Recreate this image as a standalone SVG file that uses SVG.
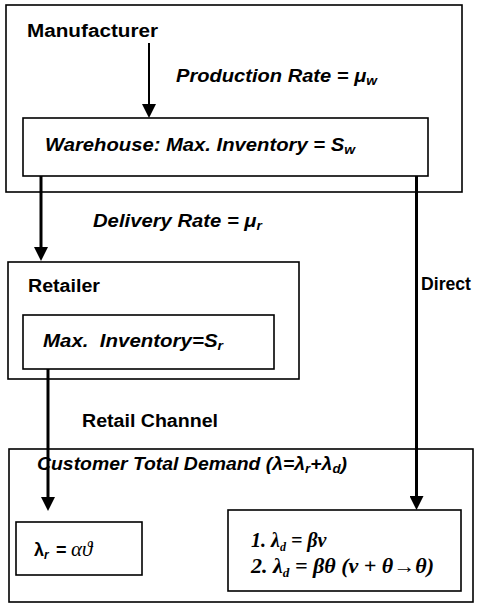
<svg xmlns="http://www.w3.org/2000/svg" width="480" height="605" viewBox="0 0 480 605">
<style>
.box{fill:none;stroke:#000;stroke-width:1.6}
.lb{font-family:"Liberation Sans",Arial,sans-serif;font-weight:bold;font-size:17.5px;fill:#000}
.li{font-family:"Liberation Sans",Arial,sans-serif;font-weight:bold;font-style:italic;font-size:17.5px;fill:#000}
.m{font-family:"Liberation Serif","Times New Roman",serif;font-weight:bold;font-style:italic;font-size:20px;fill:#000}
.sub{font-size:12px}
.con{fill:none;stroke:#000;stroke-width:3}
</style>
<defs>
<marker id="ah" markerUnits="userSpaceOnUse" markerWidth="14" markerHeight="14" refX="1" refY="7" orient="auto">
<path d="M0,0 L14,7 L0,14 z" fill="#000"/>
</marker>
</defs>
<rect width="480" height="605" fill="#fff"/>
<g id="manufacturer">
<rect class="box" x="6" y="5" width="456" height="187"/>
<text class="lb" x="27" y="37" textLength="131" lengthAdjust="spacingAndGlyphs">Manufacturer</text>
</g>
<g id="warehouse">
<rect class="box" x="23" y="118" width="405" height="58" fill="#fff"/>
<text class="li" x="45" y="151" textLength="310" lengthAdjust="spacingAndGlyphs">Warehouse: Max. Inventory = S<tspan class="sub" dy="3">w</tspan></text>
</g>
<g id="retailer">
<rect class="box" x="8" y="262" width="291" height="117"/>
<text class="lb" x="28" y="292" textLength="72" lengthAdjust="spacingAndGlyphs">Retailer</text>
</g>
<g id="retailer-inventory">
<rect class="box" x="23" y="315" width="251" height="54"/>
<text class="li" x="43" y="347" textLength="180" lengthAdjust="spacingAndGlyphs" style="white-space:pre">Max.  Inventory=S<tspan class="sub" dy="3">r</tspan></text>
</g>
<g id="customer">
<rect class="box" x="9" y="449" width="464" height="153"/>
<text class="li" x="37" y="470" textLength="310" lengthAdjust="spacingAndGlyphs">Customer Total Demand (λ=λ<tspan class="sub" dy="3">r</tspan><tspan dy="-3">+λ</tspan><tspan class="sub" dy="3">d</tspan><tspan dy="-3">)</tspan></text>
</g>
<g id="lambda-r">
<rect class="box" x="16" y="522" width="126" height="53"/>
<text x="34" y="556" style="font-family:'Liberation Sans',Arial,sans-serif;font-weight:bold;font-size:18px">λ<tspan style="font-size:12px;font-style:italic" dy="3">r</tspan><tspan x="56" dy="-3">=</tspan><tspan x="71" style="font-family:'Liberation Serif','Times New Roman',serif;font-weight:normal;font-style:italic;font-size:21px">αϑ</tspan></text>
</g>
<g id="lambda-d">
<rect class="box" x="228" y="510" width="233" height="81"/>
<text class="m" x="251" y="547">1. λ<tspan class="sub" dy="4">d</tspan><tspan dy="-4"> = βν</tspan></text>
<text class="m" x="251" y="573" textLength="183" lengthAdjust="spacingAndGlyphs">2. λ<tspan class="sub" dy="4">d</tspan><tspan dy="-4"> = βθ (ν + θ→θ)</tspan></text>
</g>
<g id="connectors">
<line x1="149" y1="43" x2="149" y2="105" stroke="#000" stroke-width="2" marker-end="url(#ah)"/>
<line class="con" x1="41" y1="176" x2="41" y2="248" marker-end="url(#ah)"/>
<line class="con" x1="48" y1="369" x2="48" y2="498" marker-end="url(#ah)"/>
<line class="con" x1="416.5" y1="176" x2="416.5" y2="497" marker-end="url(#ah)"/>
<text class="li" x="176" y="82" textLength="201" lengthAdjust="spacingAndGlyphs">Production Rate = μ<tspan class="sub" dy="3">w</tspan></text>
<text class="li" x="93" y="227" textLength="169" lengthAdjust="spacingAndGlyphs">Delivery Rate = μ<tspan class="sub" dy="3">r</tspan></text>
<text class="lb" x="421" y="290" textLength="50" lengthAdjust="spacingAndGlyphs">Direct</text>
<text class="lb" x="82" y="427" textLength="136" lengthAdjust="spacingAndGlyphs">Retail Channel</text>
</g>
</svg>
